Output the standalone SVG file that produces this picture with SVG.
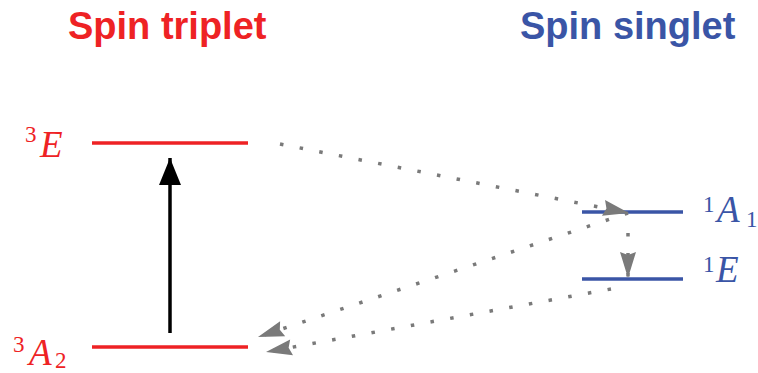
<svg xmlns="http://www.w3.org/2000/svg" width="758" height="373" viewBox="0 0 758 373">
<style>
.title{font-family:"Liberation Sans",Arial,sans-serif;font-weight:bold;font-size:38px}
.red{fill:#ee2224}
.blue{fill:#3a55a6}
.lvlr{stroke:#ee2224;stroke-width:3.5}
.lvlb{stroke:#3a55a6;stroke-width:3.5}
.math{font-family:"Liberation Serif","Times New Roman",serif;font-size:37px}
.it{font-style:italic}
.sup{font-size:23px}
.dot{stroke:#7a7a7a;stroke-width:3.5;stroke-dasharray:3.5 16.5;fill:none;marker-end:url(#ga)}
</style>
<defs>
<marker id="ga" markerUnits="userSpaceOnUse" markerWidth="28" markerHeight="18" refX="26" refY="8" orient="auto" overflow="visible">
<path d="M0,0 L26,8 L0,16 L3,8 z" fill="#7a7a7a"/>
</marker>
<marker id="ka" markerUnits="userSpaceOnUse" markerWidth="28" markerHeight="24" refX="27" refY="11" orient="auto" overflow="visible">
<path d="M0,0 L27,11 L0,22 z" fill="#000"/>
</marker>
</defs>
<text class="title red" x="68" y="39">Spin triplet</text>
<text class="title blue" x="520" y="39">Spin singlet</text>
<g id="T-3E">
<line class="lvlr" x1="92" y1="143" x2="248" y2="143"/>
<text class="math red"><tspan class="sup" x="25" y="142">3</tspan><tspan class="it" x="40" y="157">E</tspan></text>
</g>
<g id="T-3A2">
<line class="lvlr" x1="92" y1="347" x2="248" y2="347"/>
<text class="math red"><tspan class="sup" x="13" y="352">3</tspan><tspan class="it" x="29" y="365">A</tspan><tspan class="sup" x="55" y="368">2</tspan></text>
</g>
<g id="S-1A1">
<line class="lvlb" x1="582" y1="212" x2="683" y2="212"/>
<text class="math blue"><tspan class="sup" x="703" y="212">1</tspan><tspan class="it" x="717" y="222">A</tspan><tspan class="sup" x="746" y="227">1</tspan></text>
</g>
<g id="S-1E">
<line class="lvlb" x1="582" y1="279" x2="683" y2="279"/>
<text class="math blue"><tspan class="sup" x="703" y="272">1</tspan><tspan class="it" x="716" y="282">E</tspan></text>
</g>
<g id="connectors">
<line x1="170" y1="333" x2="170" y2="158" stroke="#000" stroke-width="3.5" marker-end="url(#ka)"/>
<line class="dot" x1="280" y1="144" x2="629" y2="213"/>
<line class="dot" x1="628" y1="233" x2="628" y2="278"/>
<line class="dot" x1="628" y1="213" x2="258" y2="337"/>
<line class="dot" x1="611" y1="289" x2="266" y2="352"/>
</g>
</svg>
